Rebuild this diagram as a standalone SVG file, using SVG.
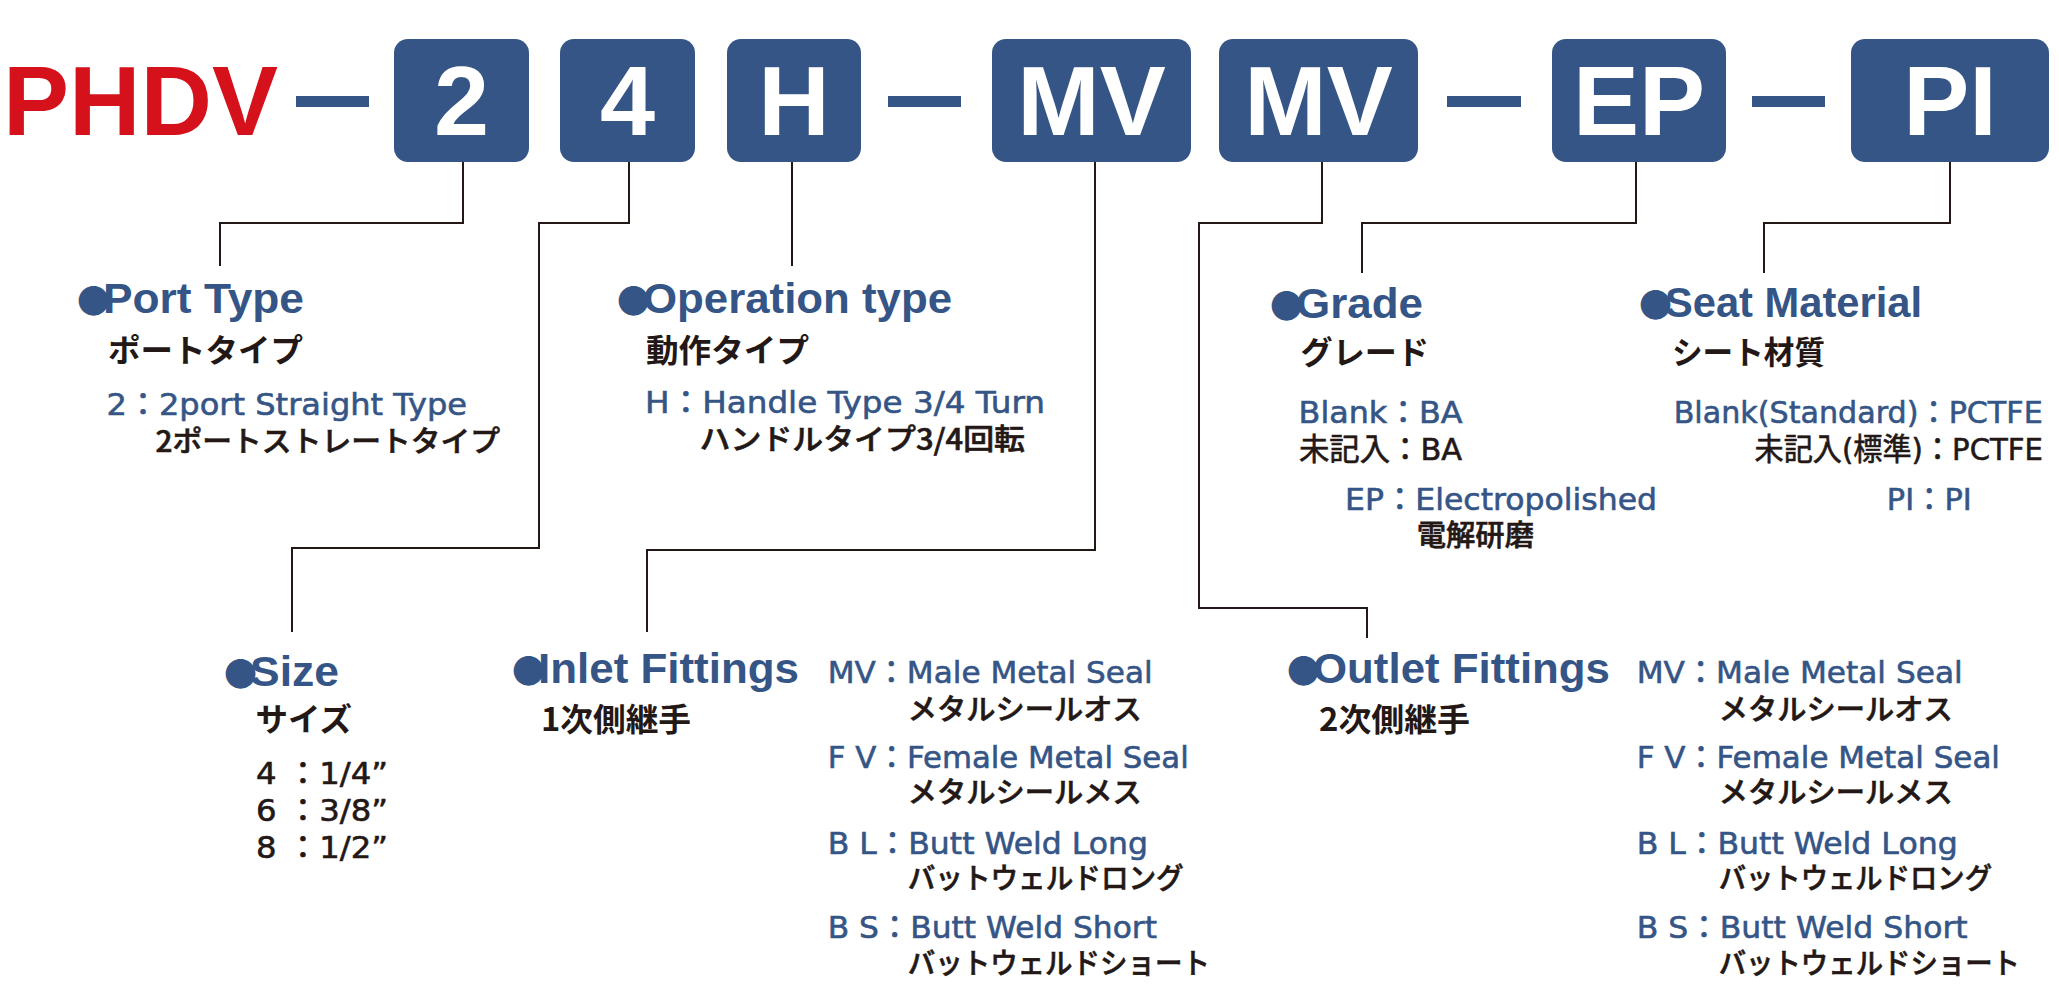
<svg xmlns="http://www.w3.org/2000/svg" width="2059" height="988" viewBox="0 0 2059 988">
<style>
.box{fill:#355586}
.bt{font-family:"Liberation Sans",Arial,sans-serif;font-weight:bold;font-size:99px;fill:#fff;text-anchor:middle}
.title{font-family:"Liberation Sans",Arial,sans-serif;font-weight:bold;font-size:99px;fill:#d5121c}
.h{font-family:"Liberation Sans",Arial,sans-serif;font-weight:bold;font-size:42px;fill:#355586}
.bul{font-family:"Noto Sans CJK JP",sans-serif;font-size:33px;letter-spacing:-7px}
.d{font-family:"DejaVu Sans","Noto Sans CJK JP",sans-serif;font-size:31px;fill:#355586;stroke:#355586;stroke-width:0.6px}
.k{fill:#231815;stroke:#231815}
.j{font-family:"Noto Sans CJK JP",sans-serif;font-size:29px;font-weight:500;fill:#231815;stroke:#231815;stroke-width:0.6px}
.js{font-family:"Noto Sans CJK JP",sans-serif;font-size:32px;font-weight:bold;fill:#231815}
.ln{fill:none;stroke:#231815;stroke-width:2}
</style>
<rect width="2059" height="988" fill="#fff"/>
<g id="code">
<text class="title" x="3" y="135" textLength="275" lengthAdjust="spacingAndGlyphs">PHDV</text>
<rect class="box" x="296" y="96" width="73" height="11"/>
<g id="box-2"><rect class="box" x="394" y="39" width="135" height="123" rx="14"/><text class="bt" x="461.5" y="135">2</text></g>
<g id="box-4"><rect class="box" x="560" y="39" width="135" height="123" rx="14"/><text class="bt" x="627.5" y="135">4</text></g>
<g id="box-H"><rect class="box" x="727" y="39" width="134" height="123" rx="14"/><text class="bt" x="794" y="135">H</text></g>
<rect class="box" x="888" y="96" width="73" height="11"/>
<g id="box-MV1"><rect class="box" x="992" y="39" width="199" height="123" rx="14"/><text class="bt" x="1091.5" y="135">MV</text></g>
<g id="box-MV2"><rect class="box" x="1219" y="39" width="199" height="123" rx="14"/><text class="bt" x="1318.5" y="135">MV</text></g>
<rect class="box" x="1447" y="96" width="74" height="11"/>
<g id="box-EP"><rect class="box" x="1552" y="39" width="174" height="123" rx="14"/><text class="bt" x="1639" y="135">EP</text></g>
<rect class="box" x="1752" y="96" width="73" height="11"/>
<g id="box-PI"><rect class="box" x="1851" y="39" width="198" height="123" rx="14"/><text class="bt" x="1950" y="135">PI</text></g>
</g>
<g id="connectors">
<path class="ln" d="M463,162 V223 H220 V266"/>
<path class="ln" d="M629,162 V223 H539 V548 H292 V632"/>
<path class="ln" d="M792,162 V266"/>
<path class="ln" d="M1095,162 V550 H647 V632"/>
<path class="ln" d="M1322,162 V223 H1199 V608 H1367 V638"/>
<path class="ln" d="M1636,162 V223 H1362 V273"/>
<path class="ln" d="M1950,162 V223 H1764 V273"/>
</g>
<g id="port-type">
<text class="h" x="77" y="313"><tspan class="bul">●</tspan><tspan textLength="201" lengthAdjust="spacingAndGlyphs">Port Type</tspan></text>
<text class="js" x="108" y="362" textLength="195" lengthAdjust="spacingAndGlyphs">ポートタイプ</text>
<text class="d" x="106.5" y="415" textLength="360.5" lengthAdjust="spacingAndGlyphs">2：2port Straight Type</text>
<text class="j" x="155.6" y="452" textLength="344.4" lengthAdjust="spacingAndGlyphs">2ポートストレートタイプ</text>
</g>
<g id="operation-type">
<text class="h" x="617" y="313"><tspan class="bul">●</tspan><tspan textLength="309" lengthAdjust="spacingAndGlyphs">Operation type</tspan></text>
<text class="js" x="646" y="362" textLength="163" lengthAdjust="spacingAndGlyphs">動作タイプ</text>
<text class="d" x="645" y="413" textLength="400" lengthAdjust="spacingAndGlyphs">H：Handle Type 3/4 Turn</text>
<text class="j" x="699.6" y="450" textLength="325.4" lengthAdjust="spacingAndGlyphs">ハンドルタイプ3/4回転</text>
</g>
<g id="grade">
<text class="h" x="1270" y="318"><tspan class="bul">●</tspan><tspan textLength="127" lengthAdjust="spacingAndGlyphs">Grade</tspan></text>
<text class="js" x="1300.6" y="364" textLength="128.4" lengthAdjust="spacingAndGlyphs">グレード</text>
<text class="d" x="1298.6" y="423" textLength="164" lengthAdjust="spacingAndGlyphs">Blank：BA</text>
<text class="d k" x="1299" y="460" textLength="163" lengthAdjust="spacingAndGlyphs">未記入：BA</text>
<text class="d" x="1345" y="510" textLength="312" lengthAdjust="spacingAndGlyphs">EP：Electropolished</text>
<text class="j" x="1416.7" y="546" textLength="117.3" lengthAdjust="spacingAndGlyphs">電解研磨</text>
</g>
<g id="seat-material">
<text class="h" x="1639" y="317"><tspan class="bul">●</tspan><tspan textLength="257" lengthAdjust="spacingAndGlyphs">Seat Material</tspan></text>
<text class="js" x="1672" y="364" textLength="153" lengthAdjust="spacingAndGlyphs">シート材質</text>
<text class="d" x="1673.7" y="423" textLength="369" lengthAdjust="spacingAndGlyphs">Blank(Standard)：PCTFE</text>
<text class="d k" x="1754.6" y="460" textLength="288.4" lengthAdjust="spacingAndGlyphs">未記入(標準)：PCTFE</text>
<text class="d" x="1886.8" y="510" textLength="85" lengthAdjust="spacingAndGlyphs">PI：PI</text>
</g>
<g id="size">
<text class="h" x="224" y="686"><tspan class="bul">●</tspan><tspan textLength="89" lengthAdjust="spacingAndGlyphs">Size</tspan></text>
<text class="js" x="255.5" y="731" textLength="96.5" lengthAdjust="spacingAndGlyphs">サイズ</text>
<text class="d k" x="256" y="784" textLength="132" lengthAdjust="spacingAndGlyphs">4 ：1/4”</text>
<text class="d k" x="256" y="821" textLength="132" lengthAdjust="spacingAndGlyphs">6 ：3/8”</text>
<text class="d k" x="256" y="858" textLength="132" lengthAdjust="spacingAndGlyphs">8 ：1/2”</text>
</g>
<g id="inlet-fittings">
<text class="h" x="512" y="683"><tspan class="bul">●</tspan><tspan textLength="261" lengthAdjust="spacingAndGlyphs">Inlet Fittings</tspan></text>
<text class="js" x="541" y="731" textLength="150" lengthAdjust="spacingAndGlyphs">1次側継手</text>
<text class="d" x="827.7" y="683" textLength="325" lengthAdjust="spacingAndGlyphs">MV：Male Metal Seal</text>
<text class="j" x="907.7" y="720" textLength="234" lengthAdjust="spacingAndGlyphs">メタルシールオス</text>
<text class="d" x="827.7" y="768" textLength="361" lengthAdjust="spacingAndGlyphs">F V：Female Metal Seal</text>
<text class="j" x="907.7" y="803" textLength="234" lengthAdjust="spacingAndGlyphs">メタルシールメス</text>
<text class="d" x="827.7" y="854" textLength="320.3" lengthAdjust="spacingAndGlyphs">B L：Butt Weld Long</text>
<text class="j" x="907.7" y="889" textLength="276" lengthAdjust="spacingAndGlyphs">バットウェルドロング</text>
<text class="d" x="827.7" y="938" textLength="329.3" lengthAdjust="spacingAndGlyphs">B S：Butt Weld Short</text>
<text class="j" x="907.7" y="974" textLength="302.3" lengthAdjust="spacingAndGlyphs">バットウェルドショート</text>
</g>
<g id="outlet-fittings">
<text class="h" x="1287" y="683"><tspan class="bul">●</tspan><tspan textLength="297" lengthAdjust="spacingAndGlyphs">Outlet Fittings</tspan></text>
<text class="js" x="1319" y="731" textLength="151" lengthAdjust="spacingAndGlyphs">2次側継手</text>
<text class="d" x="1636.7" y="683" textLength="326" lengthAdjust="spacingAndGlyphs">MV：Male Metal Seal</text>
<text class="j" x="1718.7" y="720" textLength="234" lengthAdjust="spacingAndGlyphs">メタルシールオス</text>
<text class="d" x="1636.7" y="768" textLength="363.3" lengthAdjust="spacingAndGlyphs">F V：Female Metal Seal</text>
<text class="j" x="1718.7" y="803" textLength="234" lengthAdjust="spacingAndGlyphs">メタルシールメス</text>
<text class="d" x="1636.7" y="854" textLength="321" lengthAdjust="spacingAndGlyphs">B L：Butt Weld Long</text>
<text class="j" x="1718.7" y="889" textLength="273.3" lengthAdjust="spacingAndGlyphs">バットウェルドロング</text>
<text class="d" x="1636.7" y="938" textLength="331" lengthAdjust="spacingAndGlyphs">B S：Butt Weld Short</text>
<text class="j" x="1718.7" y="974" textLength="301.3" lengthAdjust="spacingAndGlyphs">バットウェルドショート</text>
</g>
</svg>
